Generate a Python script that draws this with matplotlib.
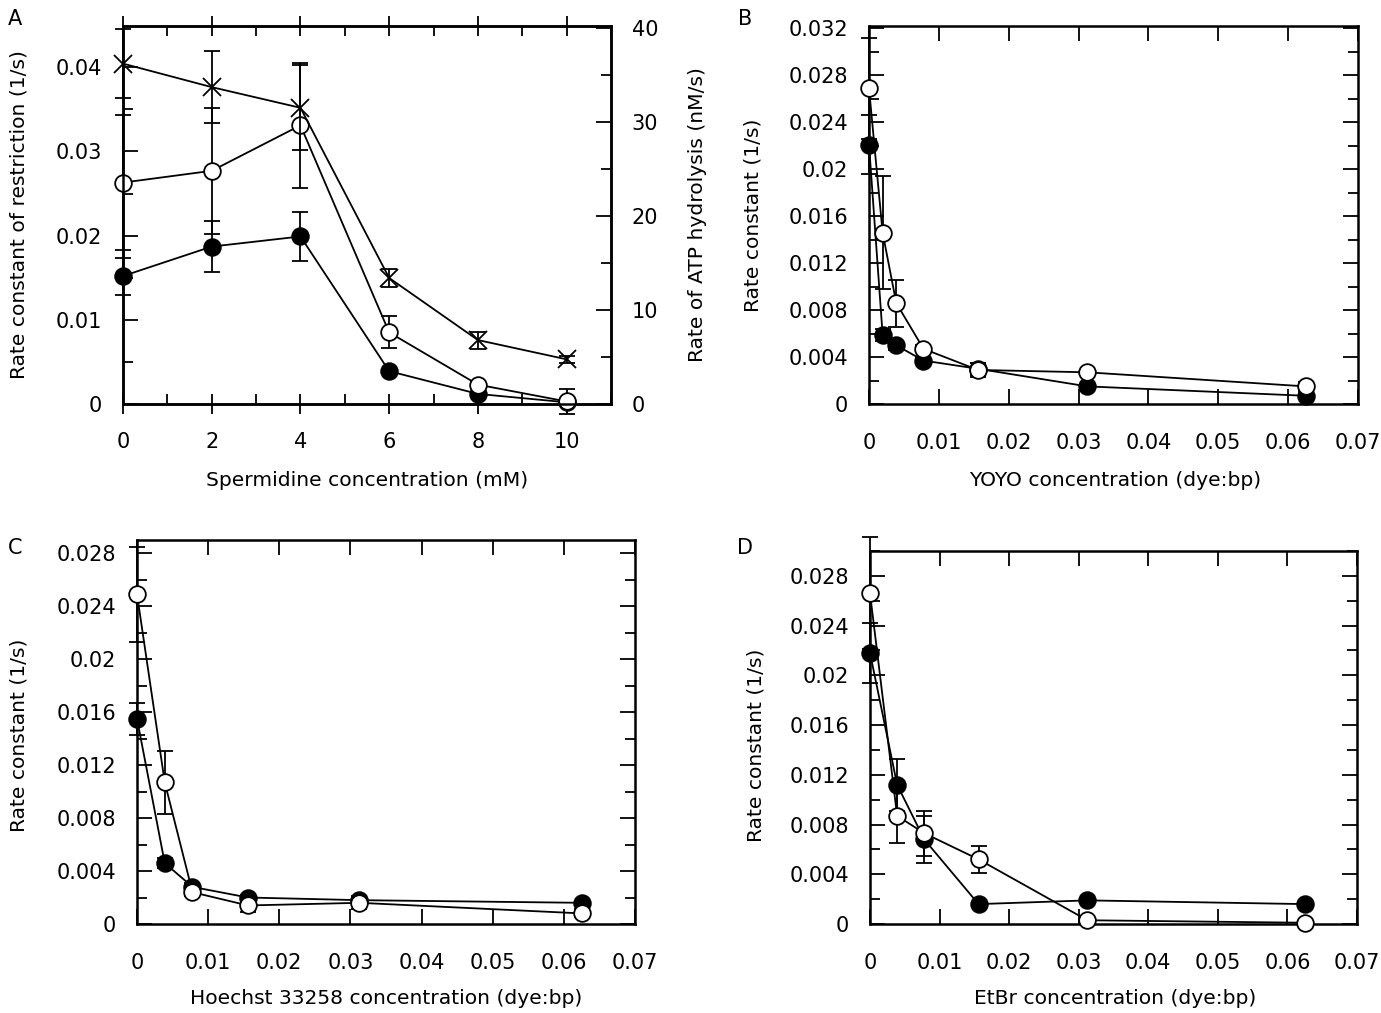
import matplotlib
matplotlib.use("Agg")
import matplotlib.pyplot as plt
from matplotlib.ticker import MultipleLocator, FuncFormatter

plt.rcParams['font.family'] = ['DejaVu Sans']
plt.rcParams['font.size'] = 15

# Panel A: spermidine
spd_x = [0, 2, 4, 6, 8, 10]
spd_filled = [0.0152, 0.0187, 0.0199, 0.0039, 0.0012, 0.0002]
spd_filled_err = [0.0022, 0.0030, 0.0029, 0.0003, 0.0002, 0.0001]
spd_open = [0.0263, 0.0277, 0.0331, 0.0085, 0.0023, 0.0003]
spd_open_err = [0.0080, 0.0075, 0.0074, 0.0019, 0.0003, 0.0015]
spd_atp = [36.2, 33.7, 31.5, 13.4, 6.8, 4.75]
spd_atp_err = [3.7, 3.8, 4.5, 1.0, 0.9, 0.4]

# Panel B: YOYO
yoyo_x = [0, 0.00195, 0.0039, 0.0078, 0.0156, 0.03125, 0.0625]
yoyo_filled = [0.0221, 0.0059, 0.0050, 0.0037, 0.0030, 0.0015, 0.0007]
yoyo_filled_err = [0.0025, 0.0005, 0.0004, 0.0002, 0.0005, 0.0002, 0.0002]
yoyo_open = [0.0269, 0.0146, 0.0086, 0.0047, 0.0029, 0.0027, 0.0015]
yoyo_open_err = [0.0043, 0.0048, 0.0020, 0.0003, 0.0006, 0.0002, 0.0004]

# Panel C: Hoechst 33258
hoe_x = [0, 0.0039, 0.0078, 0.0156, 0.03125, 0.0625]
hoe_filled = [0.0155, 0.0046, 0.0028, 0.0020, 0.0018, 0.0016]
hoe_filled_err = [0.0012, 0.0004, 0.0003, 0.0002, 0.0002, 0.0001]
hoe_open = [0.0249, 0.0107, 0.0024, 0.0014, 0.0016, 0.0008]
hoe_open_err = [0.0036, 0.0024, 0.0003, 0.0005, 0.0005, 0.0003]

# Panel D: EtBr
etbr_x = [0, 0.0039, 0.0078, 0.0156, 0.03125, 0.0625]
etbr_filled = [0.0218, 0.0112, 0.0068, 0.0016, 0.0019, 0.0016]
etbr_filled_err = [0.0024, 0.0021, 0.0019, 0.0002, 0.0002, 0.0001]
etbr_open = [0.0266, 0.0087, 0.0073, 0.0052, 0.0003, 0.0001]
etbr_open_err = [0.0045, 0.0022, 0.0018, 0.0011, 0.0001, 0.0001]

W, H = 1381, 1013
fig = plt.figure(figsize=(W / 100, H / 100), dpi=100)


def box(l, r, t, b):
    return [l / W, 1 - b / H, (r - l) / W, (b - t) / H]


def fmt(v, pos):
    return "0" if abs(v) < 1e-12 else f"{v:g}"


def series(ax, x, y, err, filled, marker='o', ms=12):
    ax.errorbar(x, y, yerr=err, fmt='none', ecolor='black', elinewidth=1.3,
                capsize=6, capthick=1.3, clip_on=False, zorder=2)
    ax.plot(x, y, '-', color='black', lw=1.3, zorder=3, clip_on=False)
    if marker == 'o':
        ax.plot(x, y, 'o', ms=ms, mec='black', mew=1.3,
                mfc='black' if filled else 'white', zorder=4, clip_on=False)
    else:
        ax.plot(x, y, 'x', ms=13, mec='black', mew=1.3, zorder=4, clip_on=False)


def style(ax, ymaj, ymin, xpad=21):
    for s in ax.spines.values():
        s.set_linewidth(1.8)
    ax.yaxis.set_major_locator(MultipleLocator(ymaj))
    ax.yaxis.set_minor_locator(MultipleLocator(ymin))
    ax.yaxis.set_major_formatter(FuncFormatter(fmt))
    ax.xaxis.set_major_formatter(FuncFormatter(fmt))
    ax.tick_params(axis='y', which='major', direction='in', length=11, width=1.3,
                   left=True, right=True, pad=15)
    ax.tick_params(axis='y', which='minor', direction='in', length=7, width=1.3,
                   left=True, right=True)
    ax.tick_params(axis='x', which='major', direction='in', length=11, width=1.3,
                   top=True, bottom=True, pad=xpad)
    ax.tick_params(axis='x', which='minor', direction='in', length=7, width=1.3,
                   top=True, bottom=True)


# ---- A ----
axA = fig.add_axes(box(123, 611, 26, 404))
axA.set_xlim(0, 11)
axA.set_ylim(0, 0.0449)
series(axA, spd_x, spd_filled, spd_filled_err, True)
series(axA, spd_x, spd_open, spd_open_err, False)
style(axA, 0.01, 0.005)
axA.xaxis.set_major_locator(MultipleLocator(2))
axA.xaxis.set_minor_locator(MultipleLocator(1))
axA.tick_params(axis='x', which='major', direction='inout', length=15, pad=13)
axA.tick_params(axis='y', right=False, which='both')
axA.set_xticks([0, 2, 4, 6, 8, 10])

axA2 = axA.twinx()
axA2.set_ylim(0, 40.2)
series(axA2, spd_x, spd_atp, spd_atp_err, False, marker='x')
axA2.yaxis.set_major_locator(MultipleLocator(10))
axA2.yaxis.set_minor_locator(MultipleLocator(5))
axA2.tick_params(axis='y', which='major', direction='in', length=11, width=1.3, pad=15)
axA2.tick_params(axis='y', which='minor', direction='in', length=7, width=1.3)
for s in axA2.spines.values():
    s.set_linewidth(1.8)

# ---- B ----
axB = fig.add_axes(box(869, 1358, 26, 404))
axB.set_xlim(0, 0.07)
axB.set_ylim(0, 0.0322)
series(axB, yoyo_x, yoyo_filled, yoyo_filled_err, True)
series(axB, yoyo_x, yoyo_open, yoyo_open_err, False)
style(axB, 0.004, 0.002)
axB.xaxis.set_major_locator(MultipleLocator(0.01))

# ---- C ----
axC = fig.add_axes(box(137, 635, 540, 924))
axC.set_xlim(0, 0.07)
axC.set_ylim(0, 0.029)
series(axC, hoe_x, hoe_filled, hoe_filled_err, True)
series(axC, hoe_x, hoe_open, hoe_open_err, False)
style(axC, 0.004, 0.002)
axC.xaxis.set_major_locator(MultipleLocator(0.01))

# ---- D ----
axD = fig.add_axes(box(870, 1357, 551, 924))
axD.set_xlim(0, 0.07)
axD.set_ylim(0, 0.030)
series(axD, etbr_x, etbr_filled, etbr_filled_err, True)
series(axD, etbr_x, etbr_open, etbr_open_err, False)
style(axD, 0.004, 0.002)
axD.xaxis.set_major_locator(MultipleLocator(0.01))


def ftext(x, y, s, size=14.6, **kw):
    fig.text(x / W, 1 - y / H, s, ha='center', va='center', fontsize=size, **kw)


ftext(367, 480, "Spermidine concentration (mM)")
ftext(1115, 480, "YOYO concentration (dye:bp)")
ftext(386, 998, "Hoechst 33258 concentration (dye:bp)")
ftext(1115, 998, "EtBr concentration (dye:bp)")
ftext(19, 215, "Rate constant of restriction (1/s)", rotation=90)
ftext(697, 215, "Rate of ATP hydrolysis (nM/s)", rotation=90)
ftext(753, 215, "Rate constant (1/s)", rotation=90)
ftext(19, 735, "Rate constant (1/s)", rotation=90)
ftext(756, 745, "Rate constant (1/s)", rotation=90)
ftext(15, 19, "A", size=15)
ftext(745, 19, "B", size=15)
ftext(15, 548, "C", size=15)
ftext(745, 548, "D", size=15)

fig.savefig("out.png", dpi=100)
